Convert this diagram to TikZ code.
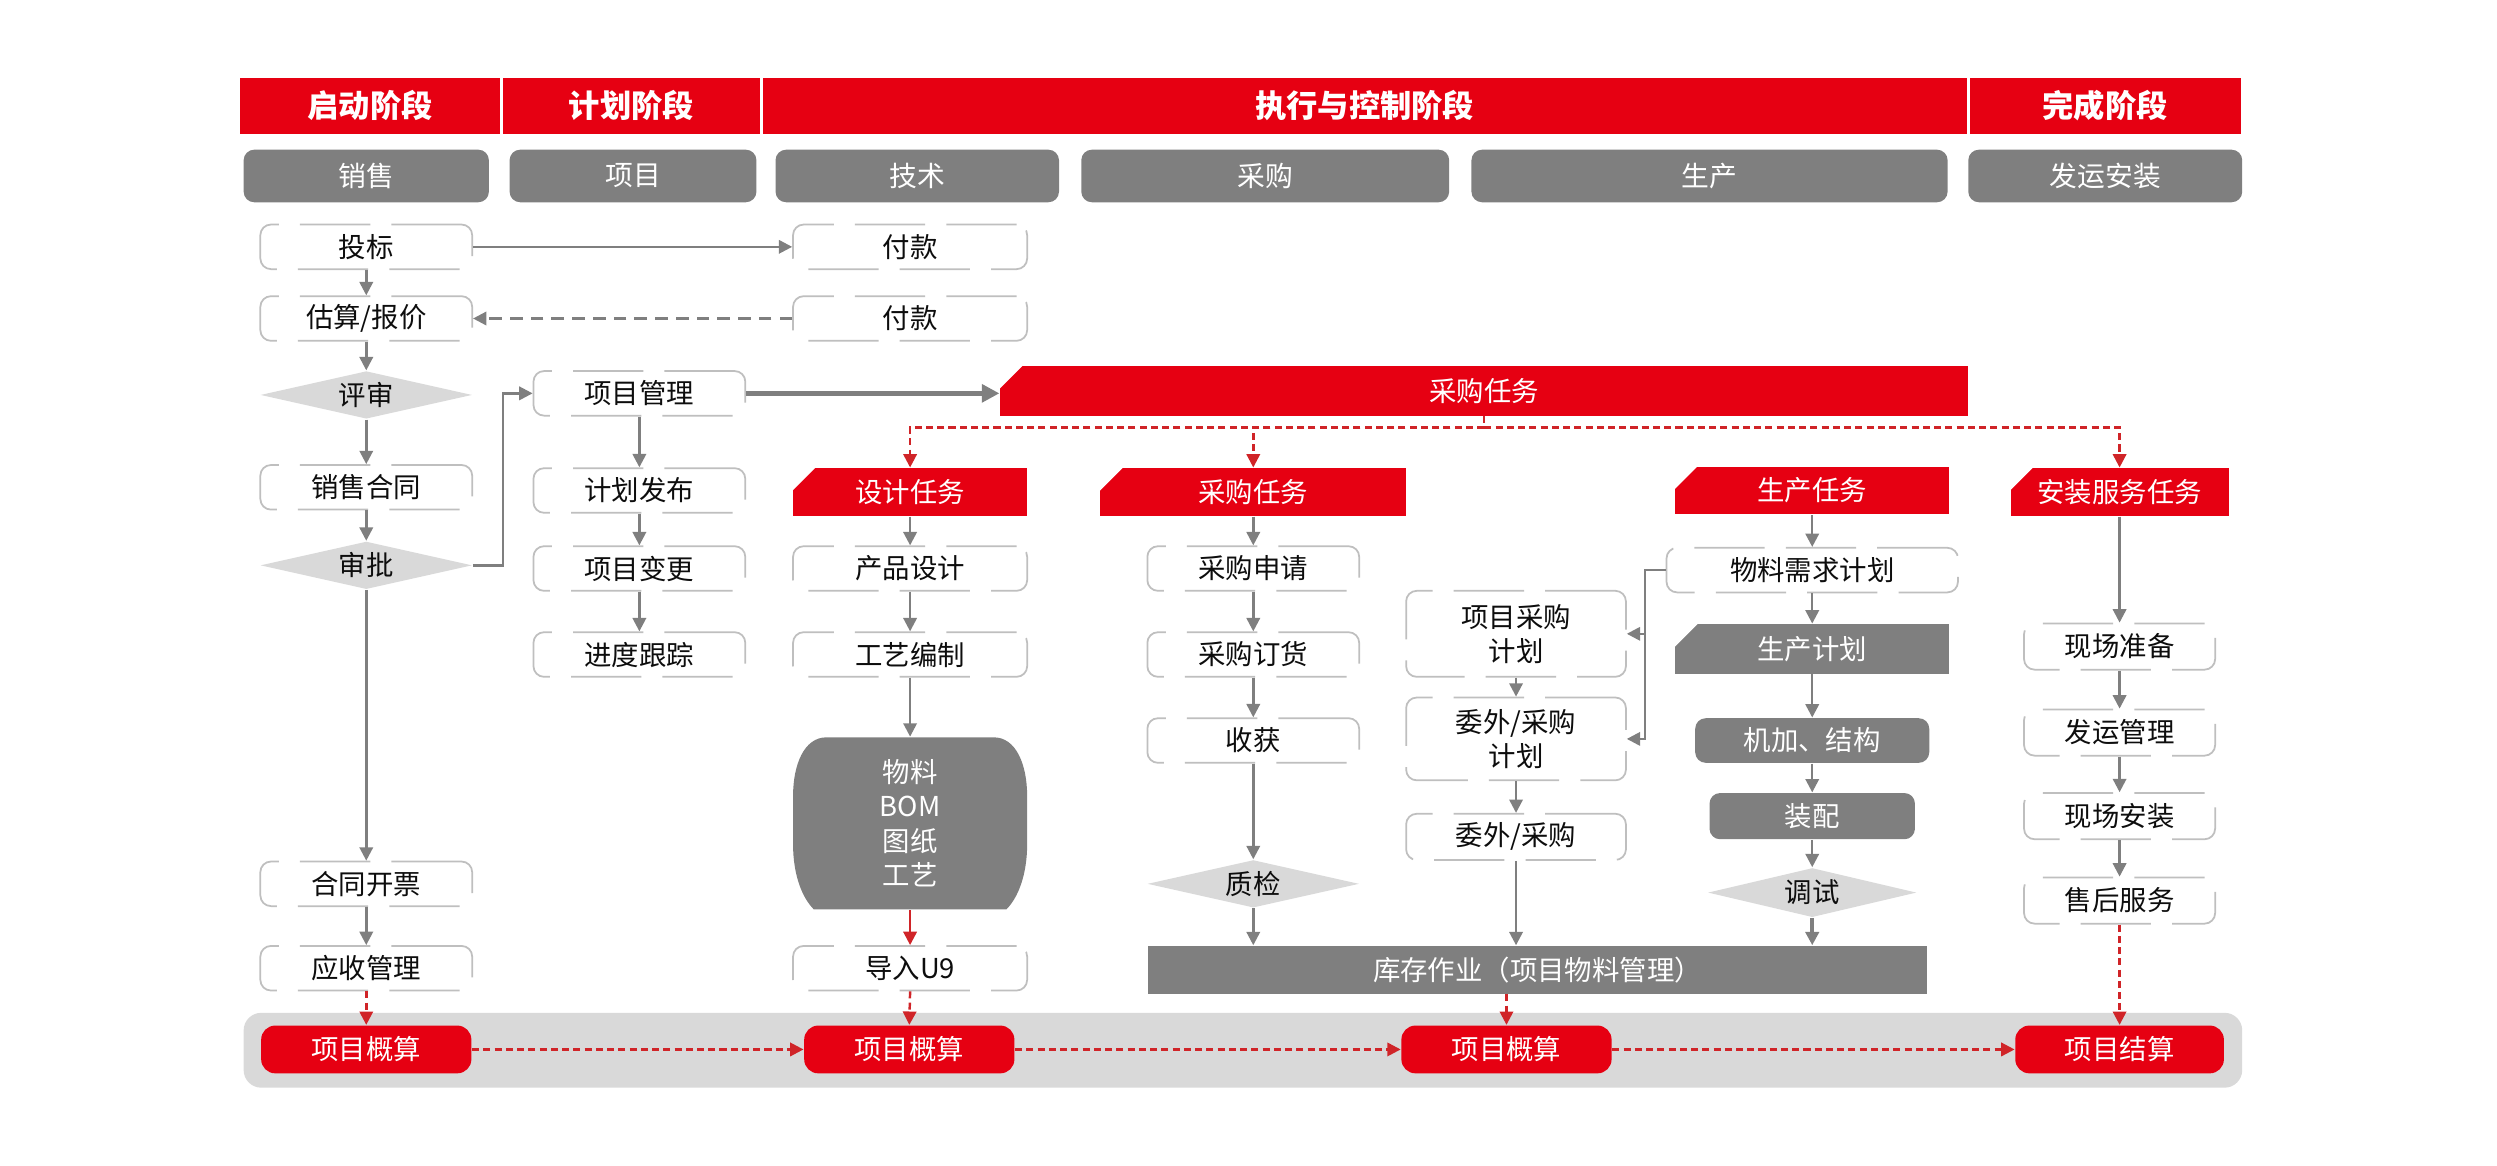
\documentclass[tikz,border=0pt]{standalone}
\usepackage{fontspec}
\setmainfont{Noto Sans CJK SC}
\usetikzlibrary{arrows.meta,shapes.geometric}

\newdimen\pxu \pxu=0.15925mm

\definecolor{hdred}{RGB}{230,0,18}
\definecolor{lanegray}{RGB}{127,127,127}
\definecolor{bandgray}{RGB}{217,217,217}
\definecolor{boxline}{RGB}{191,191,191}
\definecolor{dashred}{RGB}{208,36,40}
\definecolor{txt}{RGB}{13,13,13}

\tikzset{
  hdr/.style={fill=hdred, draw=white, line width=0.8pt, text=white,
    font=\fontsize{8.9}{10}\selectfont\bfseries, minimum height=37\pxu, inner sep=0pt},
  lane/.style={fill=lanegray, rounded corners=3pt, text=white,
    font=\fontsize{7.9}{9}\selectfont, minimum height=33\pxu, inner sep=0pt},
  box/.style={draw=boxline, line width=0.5pt, dash pattern=on 20pt off 6pt,
    rounded corners=3pt, fill=white, text=txt, align=center,
    font=\fontsize{7.8}{9.8}\selectfont, minimum width=133\pxu,
    minimum height=28\pxu, inner sep=0pt},
  task/.style={fill=hdred, text=white, font=\fontsize{7.8}{9}\selectfont,
    minimum height=30\pxu, inner sep=0pt},
  gbox/.style={fill=lanegray, text=white, font=\fontsize{7.8}{9}\selectfont,
    minimum height=29\pxu, inner sep=0pt},
  dia/.style={diamond, aspect=4.4, fill=bandgray, text=txt,
    font=\fontsize{7.8}{9}\selectfont, minimum width=133\pxu,
    minimum height=30\pxu, inner sep=0pt},
  sum/.style={fill=hdred, rounded corners=4pt, text=white,
    font=\fontsize{7.8}{9}\selectfont, minimum width=132\pxu,
    minimum height=30\pxu, inner sep=0pt},
  arr/.style={draw=lanegray, line width=0.7pt, -{Triangle[length=3.8pt,width=3.8pt]}},
  rarr/.style={draw=dashred, line width=0.7pt, dash pattern=on 2pt off 1.2pt,
    -{Triangle[length=3.8pt,width=3.8pt]}},
}

\begin{document}
\begin{tikzpicture}[x=0.15925mm, y=-0.15925mm]
  \useasboundingbox (0,0) rectangle (1568,732);

  % Phase header
  \node[hdr, minimum width=165\pxu] (ph1) at (232.5,66.5) {启动阶段};
  \node[hdr, minimum width=163\pxu] (ph2) at (396.5,66.5) {计划阶段};
  \node[hdr, minimum width=758\pxu] (ph3) at (857,66.5) {执行与控制阶段};
  \node[hdr, minimum width=172\pxu] (ph4) at (1322,66.5) {完成阶段};

  % Lanes
  \node[lane, minimum width=154\pxu] (ln1) at (230,110.5) {销售};
  \node[lane, minimum width=155\pxu] (ln2) at (397.5,110.5) {项目};
  \node[lane, minimum width=178\pxu] (ln3) at (576,110.5) {技术};
  \node[lane, minimum width=231\pxu] (ln4) at (794.5,110.5) {采购};
  \node[lane, minimum width=299\pxu] (ln5) at (1073.5,110.5) {生产};
  \node[lane, minimum width=172\pxu] (ln6) at (1322,110.5) {发运安装};

  % Bottom band
  \fill[bandgray, rounded corners=5pt] (153,636) rectangle (1408,683);

  % Sales
  \node[box] (tb) at (230,155) {投标};
  \node[box] (gsbj) at (230,200) {估算/报价};
  \node[dia] (ps) at (230,248) {评审};
  \node[box] (xsht) at (230,306) {销售合同};
  \node[dia] (sp) at (230,355) {审批};
  \node[box] (htkp) at (230,555) {合同开票};
  \node[box] (ysgl) at (230,608) {应收管理};

  % Project
  \node[box] (pm) at (401.5,247) {项目管理};
  \node[box] (jhfb) at (401.5,308) {计划发布};
  \node[box] (xmbg) at (401.5,357) {项目变更};
  \node[box] (jdgz) at (401.5,411) {进度跟踪};

  % Technical
  \node[box, minimum width=147\pxu] (fk1) at (571.5,155) {付款};
  \node[box, minimum width=147\pxu] (fk2) at (571.5,200) {付款};
  \node[task, minimum width=608\pxu, minimum height=31\pxu] (cgbig) at (932,245.5) {采购任务};
  \node[task, minimum width=147\pxu] (sjrw) at (571.5,309) {设计任务};
  \node[box, minimum width=147\pxu] (cpsj) at (571.5,357) {产品设计};
  \node[box, minimum width=147\pxu] (gybz) at (571.5,411) {工艺编制};
  \fill[lanegray] (519,463) -- (624,463) .. controls (638,463) and (645,480) .. (645,500)
    -- (645,530) .. controls (645,550) and (639,564) .. (632,571) -- (511,571)
    .. controls (504,564) and (498,550) .. (498,530) -- (498,500)
    .. controls (498,480) and (505,463) .. (519,463) -- cycle;
  \node[text=white, align=center, font=\fontsize{7.8}{9.8}\selectfont,
    minimum width=147\pxu, minimum height=108\pxu, inner sep=0pt] (bom) at (571.5,517)
    {物料\\BOM\\图纸\\工艺};
  \node[box, minimum width=147\pxu] (dru) at (571.5,608) {导入U9};

  % Purchase
  \node[task, minimum width=192\pxu] (cgrw) at (787,309) {采购任务};
  \node[box] (cgsq) at (787,357) {采购申请};
  \node[box] (cgdh) at (787,411) {采购订货};
  \node[box] (sh) at (787,465) {收获};
  \node[dia] (zj) at (787,555) {质检};
  \node[box, minimum width=138\pxu, minimum height=54\pxu] (xmcgjh) at (952,398) {项目采购\\计划};
  \node[box, minimum width=138\pxu, minimum height=52\pxu] (wwcgjh) at (952,464) {委外/采购\\计划};
  \node[box, minimum width=138\pxu, minimum height=29\pxu] (wwcg) at (952,525.5) {委外/采购};
  \node[gbox, minimum width=489\pxu, minimum height=30\pxu] (kc) at (965.5,609) {库存作业（项目物料管理）};

  % Production
  \node[task, minimum width=172\pxu] (scrw) at (1138,308) {生产任务};
  \node[box, minimum width=183\pxu] (mrp) at (1138,358) {物料需求计划};
  \node[gbox, minimum width=172\pxu, minimum height=31\pxu] (scjh) at (1138,407.5) {生产计划};
  \node[gbox, rounded corners=3pt, minimum width=147\pxu, minimum height=28\pxu] (jj) at (1138,465) {机加、结构};
  \node[gbox, rounded corners=3pt, minimum width=129\pxu] (zp) at (1138,512.5) {装配};
  \node[dia, minimum width=131\pxu, minimum height=31\pxu] (ts) at (1138,560.5) {调试};

  % Install
  \node[task, minimum width=137\pxu] (azrw) at (1331,309) {安装服务任务};
  \node[box, minimum width=120\pxu, minimum height=29\pxu] (xczb) at (1331,406) {现场准备};
  \node[box, minimum width=120\pxu, minimum height=29\pxu] (fygl) at (1331,460) {发运管理};
  \node[box, minimum width=120\pxu, minimum height=29\pxu] (xcaz) at (1331,512.5) {现场安装};
  \node[box, minimum width=120\pxu, minimum height=29\pxu] (shfw) at (1331,565.5) {售后服务};

  % Cost
  \node[sum] (gs1) at (230,659) {项目概算};
  \node[sum] (gs2) at (571,659) {项目概算};
  \node[sum] (gs3) at (946,659) {项目概算};
  \node[sum, minimum width=131\pxu] (js) at (1331,659) {项目结算};

  % Cut corners
  \foreach \n in {cgbig,sjrw,cgrw,scrw,scjh,azrw}
    \fill[white] ([xshift=-0.3pt,yshift=0.3pt]\n.north west) -- ++(16,0) -- ++(-16,16) -- cycle;

  % Sales flow
  \draw[arr] (tb.east) -- (fk1.west);
  \draw[arr, dash pattern=on 3.6pt off 2.3pt] (fk2.west) -- (gsbj.east);
  \draw[arr] (tb.south) -- (gsbj.north);
  \draw[arr] (gsbj.south) -- (ps.north);
  \draw[arr] (ps.south) -- (xsht.north);
  \draw[arr] (xsht.south) -- (sp.north);
  \draw[arr] (sp.south) -- (htkp.north);
  \draw[arr] (htkp.south) -- (ysgl.north);
  \draw[rarr] (ysgl.south) -- (gs1.north);
  \draw[arr] (sp.east) -- ++(19,0) |- (pm.west);

  % Project flow
  \draw[arr, line width=1.5pt, -{Triangle[length=5pt,width=5pt]}] (pm.east) -- (pm.east -| cgbig.west);
  \draw[arr] (pm.south) -- (jhfb.north);
  \draw[arr] (jhfb.south) -- (xmbg.north);
  \draw[arr] (xmbg.south) -- (jdgz.north);

  % Task split
  \draw[rarr] (cgbig.south) -- ++(0,7) -| (sjrw.north);
  \draw[rarr] (cgbig.south) -- ++(0,7) -| (cgrw.north);
  \draw[rarr] (cgbig.south) -- ++(0,7) -| (azrw.north);

  % Design flow
  \draw[arr] (sjrw.south) -- (cpsj.north);
  \draw[arr] (cpsj.south) -- (gybz.north);
  \draw[arr] (gybz.south) -- (bom.north);
  \draw[arr, draw=dashred] (bom.south) -- (dru.north);
  \draw[rarr] (dru.south) -- (gs2.north);

  % Purchase flow
  \draw[arr] (cgrw.south) -- (cgsq.north);
  \draw[arr] (cgsq.south) -- (cgdh.north);
  \draw[arr] (cgdh.south) -- (sh.north);
  \draw[arr] (sh.south) -- (zj.north);
  \draw[arr] (zj.south) -- (zj.south |- kc.north);
  \draw[arr] (mrp.west) -- ++(-13,0) |- (xmcgjh.east);
  \draw[arr] (mrp.west) -- ++(-13,0) |- (wwcgjh.east);
  \draw[arr] (xmcgjh.south) -- (wwcgjh.north);
  \draw[arr] (wwcgjh.south) -- (wwcg.north);
  \draw[arr] (wwcg.south) -- (wwcg.south |- kc.north);

  % Production flow
  \draw[arr] (scrw.south) -- (mrp.north);
  \draw[arr] (mrp.south) -- (scjh.north);
  \draw[arr] (scjh.south) -- (jj.north);
  \draw[arr] (jj.south) -- (zp.north);
  \draw[arr] (zp.south) -- (ts.north);
  \draw[arr, line width=1.2pt] (ts.south) -- (ts.south |- kc.north);
  \draw[rarr] (gs3.north |- kc.south) -- (gs3.north);

  % Install flow
  \draw[arr] (azrw.south) -- (xczb.north);
  \draw[arr] (xczb.south) -- (fygl.north);
  \draw[arr] (fygl.south) -- (xcaz.north);
  \draw[arr] (xcaz.south) -- (shfw.north);
  \draw[rarr] (shfw.south) -- (js.north);

  % Cost chain
  \draw[rarr] (gs1.east) -- (gs2.west);
  \draw[rarr] (gs2.east) -- (gs3.west);
  \draw[rarr] (gs3.east) -- (js.west);
\end{tikzpicture}
\end{document}
